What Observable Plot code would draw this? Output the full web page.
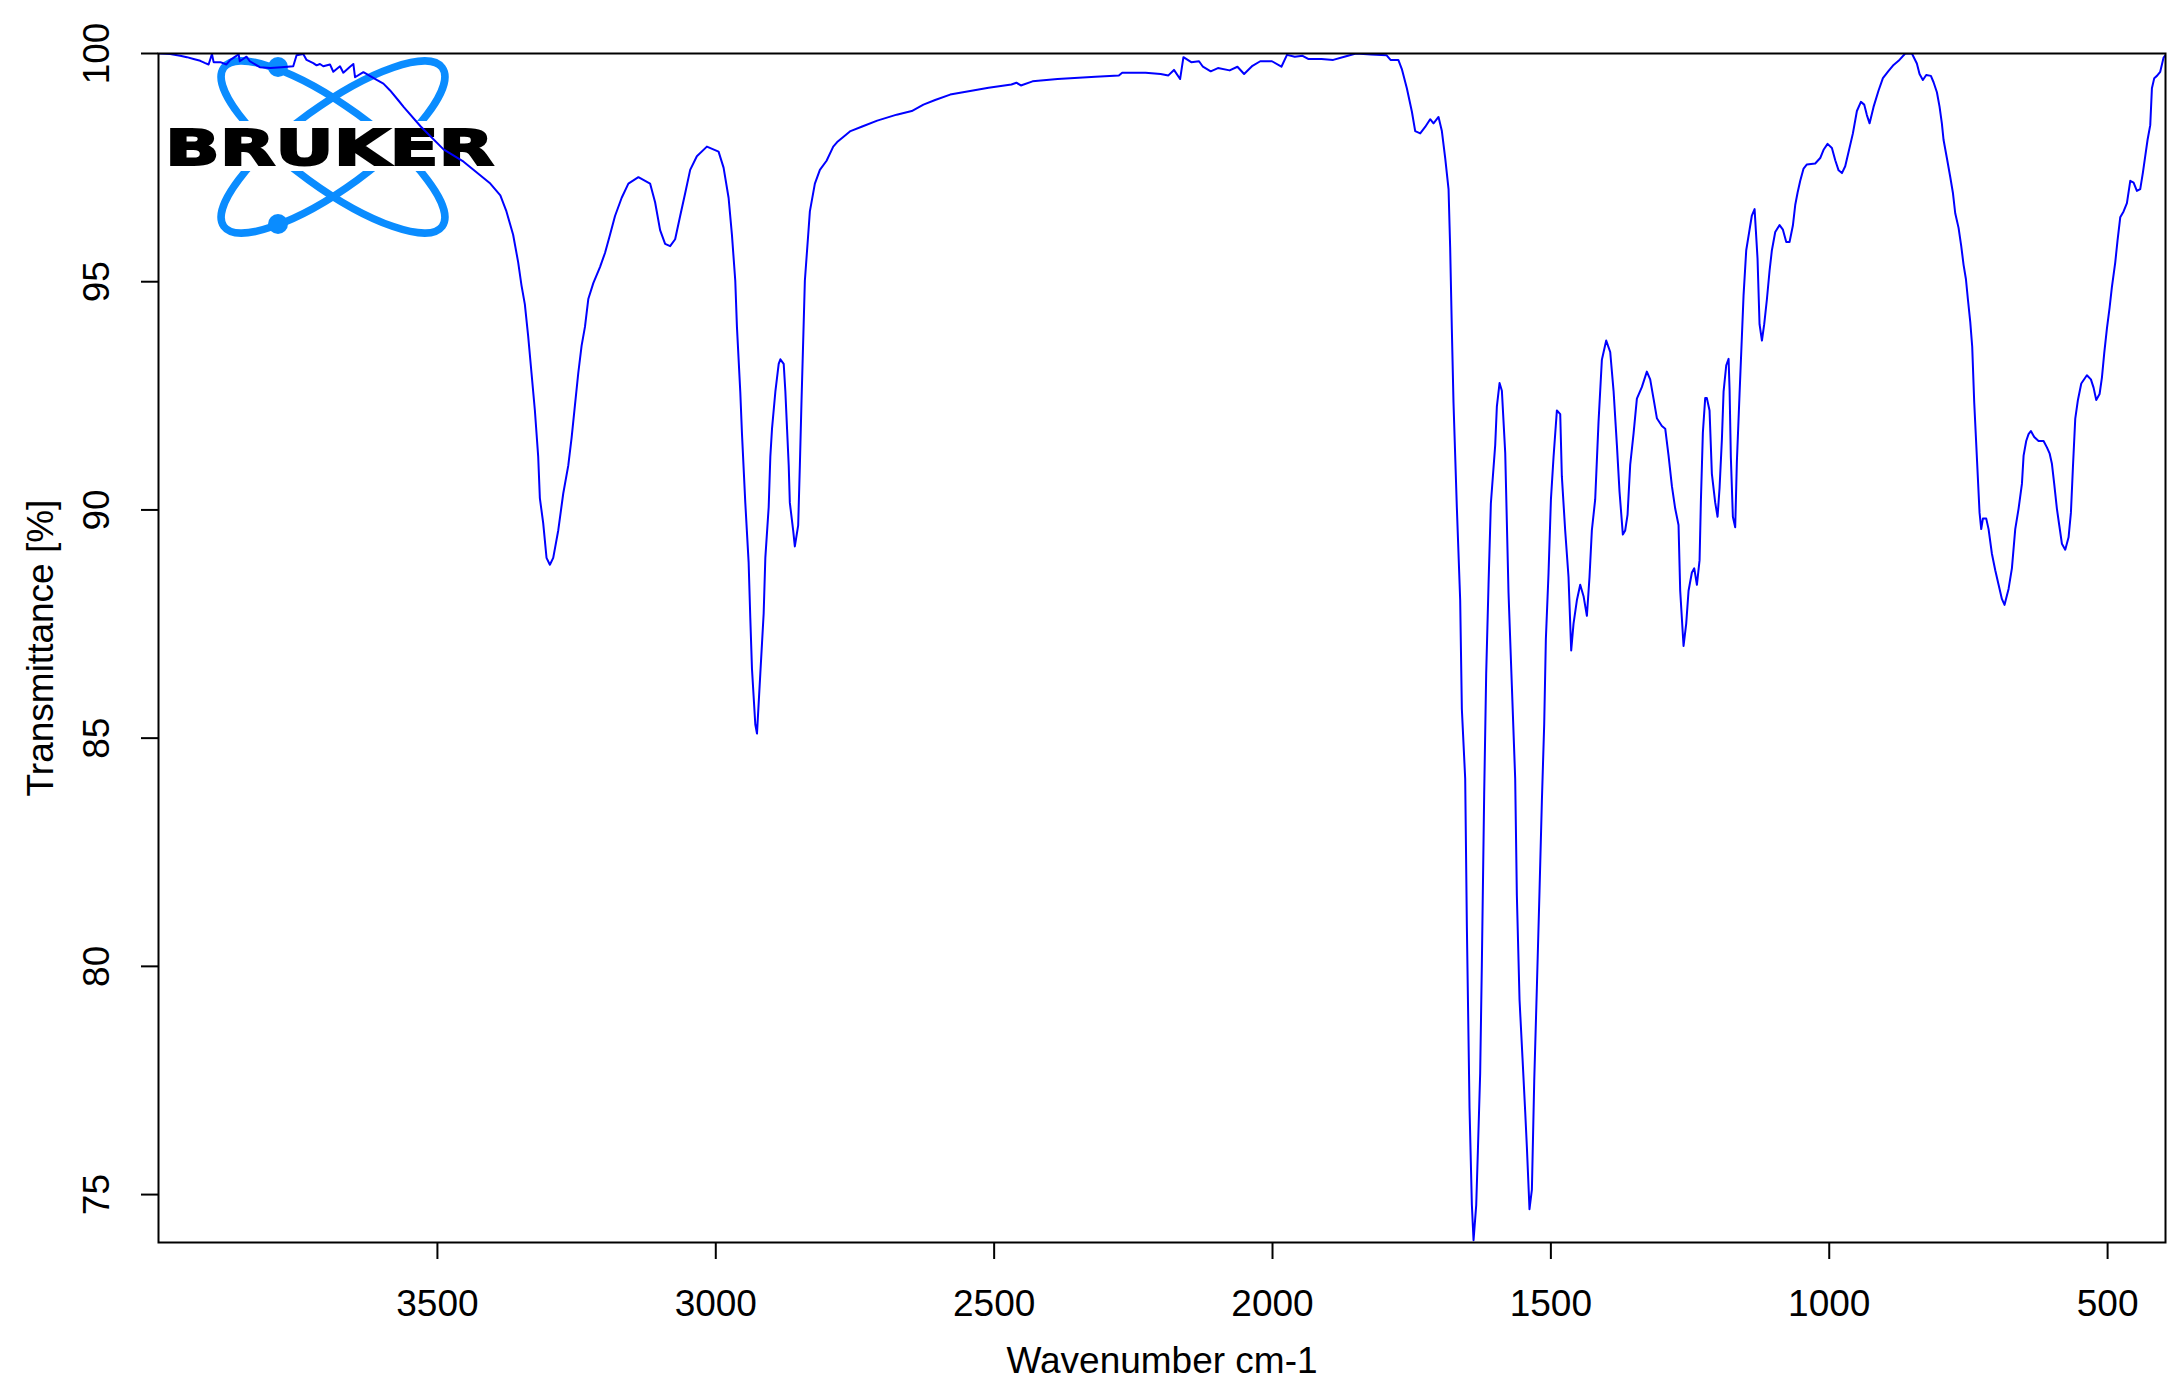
<!DOCTYPE html>
<html>
<head>
<meta charset="utf-8">
<script src="https://cdn.jsdelivr.net/npm/d3@7"></script>
<script src="https://cdn.jsdelivr.net/npm/@observablehq/plot@0.6"></script>
<style>
  body { margin: 0; background: white; overflow: hidden; }
</style>
</head>
<body>
<div id="myplot"></div>
<script>
// [wavenumber cm-1, transmittance %], high to low wavenumber
const baseline = [
  [4000, 100.0], [3998, 100.0], [3980, 99.99], [3962, 99.95], [3950, 99.92], [3938, 99.88],
  [3926, 99.84], [3917, 99.79], [3911, 99.76], [3905, 99.99], [3902, 99.81], [3890, 99.81],
  [3879, 99.76], [3872, 99.86], [3857, 99.98], [3855, 99.83], [3843, 99.93], [3837, 99.83],
  [3819, 99.70], [3800, 99.68], [3780, 99.70], [3759, 99.72], [3753, 99.96], [3741, 99.99],
  [3735, 99.86], [3723, 99.79], [3717, 99.74], [3711, 99.77], [3705, 99.72], [3693, 99.76],
  [3687, 99.60], [3675, 99.72], [3669, 99.58], [3657, 99.71], [3651, 99.77], [3648, 99.48],
  [3633, 99.59], [3609, 99.42], [3597, 99.34], [3585, 99.19], [3570, 98.97], [3560, 98.82],
  [3530, 98.40]
];
const nhStretch = [
  [3489, 97.90], [3453, 97.63], [3405, 97.15], [3387, 96.89], [3376, 96.54], [3364, 96.03],
  [3355, 95.43], [3349, 94.92], [3343, 94.51], [3337, 93.81], [3331, 93.00], [3325, 92.19],
  [3322, 91.68], [3319, 91.17], [3316, 90.26], [3310, 89.71], [3304, 88.95], [3298, 88.80],
  [3292, 88.95], [3283, 89.55], [3274, 90.36], [3265, 90.97], [3259, 91.58], [3253, 92.29],
  [3247, 93.00], [3241, 93.60], [3235, 94.01], [3229, 94.62], [3220, 94.97], [3208, 95.32],
  [3199, 95.63], [3190, 96.03], [3181, 96.44], [3169, 96.84], [3157, 97.15], [3139, 97.29],
  [3118, 97.15], [3109, 96.74], [3100, 96.13], [3091, 95.83], [3082, 95.78], [3073, 95.93],
  [3064, 96.44], [3055, 96.94], [3046, 97.45], [3034, 97.75], [3016, 97.96]
];
const chStretch = [
  [2995, 97.85], [2986, 97.50], [2977, 96.84], [2971, 96.03], [2965, 95.02], [2962, 94.01],
  [2956, 92.59], [2953, 91.68], [2947, 90.16], [2941, 88.85], [2938, 87.63], [2935, 86.52],
  [2929, 85.30], [2926, 85.10], [2920, 86.42], [2914, 87.73], [2911, 88.95], [2905, 90.06],
  [2902, 91.17], [2899, 91.78], [2893, 92.59], [2887, 93.20], [2884, 93.30], [2878, 93.20],
  [2875, 92.59], [2872, 91.78], [2869, 90.97], [2867, 90.16], [2861, 89.55], [2858, 89.20],
  [2852, 89.66], [2849, 90.97], [2846, 92.39], [2843, 93.70], [2840, 95.02], [2834, 96.03],
  [2831, 96.54], [2822, 97.15], [2813, 97.45], [2801, 97.65], [2789, 97.96]
];
const plateau = [
  [2782, 98.06], [2771, 98.17], [2758, 98.30], [2737, 98.40], [2710, 98.53], [2675, 98.66],
  [2648, 98.74], [2627, 98.88], [2606, 98.98], [2579, 99.10], [2538, 99.19], [2510, 99.25],
  [2469, 99.32], [2460, 99.36], [2452, 99.30], [2431, 99.39], [2386, 99.44], [2318, 99.49],
  [2276, 99.52], [2270, 99.58], [2228, 99.58], [2201, 99.55], [2187, 99.52], [2177, 99.64],
  [2166, 99.44], [2160, 99.92], [2146, 99.81], [2132, 99.83], [2125, 99.71], [2111, 99.61],
  [2098, 99.68], [2077, 99.63], [2063, 99.71], [2051, 99.55], [2036, 99.73], [2022, 99.83],
  [2001, 99.83], [1984, 99.71], [1974, 99.97], [1960, 99.93], [1946, 99.95], [1936, 99.88],
  [1912, 99.88], [1891, 99.86], [1871, 99.93], [1850, 100.0], [1823, 99.98], [1795, 99.96],
  [1788, 99.86], [1774, 99.86]
];
const amideBands = [
  [1767.7, 99.66], [1758.7, 99.24], [1749.7, 98.73], [1743.7, 98.30], [1734.7, 98.25],
  [1725.8, 98.39], [1716.8, 98.56], [1710.8, 98.47], [1701.8, 98.61], [1695.8, 98.30],
  [1689.8, 97.71], [1683.8, 97.03], [1680.9, 95.75], [1677.9, 93.97], [1674.9, 92.35],
  [1668.9, 90.06], [1662.9, 88.02], [1659.9, 85.64], [1653.9, 84.11], [1650.9, 80.88],
  [1646.1, 76.89], [1641.9, 74.77], [1638.9, 74.00], [1634.1, 74.77], [1631.1, 75.96],
  [1627.0, 77.66], [1624.0, 80.03], [1619.8, 83.77], [1616.2, 86.41], [1612.0, 88.36],
  [1607.8, 90.14], [1600.0, 91.42], [1597.0, 92.27], [1592.2, 92.78], [1588.0, 92.61],
  [1582.0, 91.25], [1576.1, 88.19], [1570.1, 86.15], [1564.1, 84.11], [1561.1, 81.56],
  [1556.3, 79.27], [1551.0, 78.00], [1546.1, 76.81], [1543.1, 76.04], [1538.4, 74.68],
  [1534.1, 75.11], [1529.9, 77.49], [1525.2, 79.52], [1520.4, 81.65], [1516.2, 83.60],
  [1512.0, 85.30], [1509.0, 87.17], [1504.2, 88.62], [1499.9, 90.23], [1495.2, 91.16],
  [1489.2, 92.18], [1483.2, 92.10], [1480.3, 90.74], [1474.3, 89.55], [1468.3, 88.53],
  [1463.5, 86.92], [1459.3, 87.51], [1453.3, 88.02], [1447.3, 88.36], [1441.3, 88.11],
  [1435.3, 87.68], [1430.6, 88.53], [1426.4, 89.55], [1420.4, 90.23], [1414.4, 91.93],
  [1408.4, 93.29], [1400.6, 93.71], [1393.4, 93.46], [1387.4, 92.61], [1381.4, 91.42],
  [1376.7, 90.40], [1370.7, 89.46], [1366.5, 89.55], [1362.3, 89.89], [1357.5, 90.99],
  [1351.5, 91.67], [1345.5, 92.44], [1336.6, 92.69], [1327.6, 93.03], [1321.6, 92.86],
  [1315.6, 92.44], [1309.6, 92.01], [1300.6, 91.84]
];
const fingerprint = [
  [1294.6, 91.78], [1288.6, 91.19], [1282.6, 90.52], [1276.7, 90.03], [1270.7, 89.67],
  [1267.7, 88.23], [1261.7, 87.02], [1256.9, 87.51], [1252.7, 88.23], [1246.7, 88.63],
  [1242.5, 88.72], [1237.7, 88.36], [1232.9, 88.90], [1230.5, 90.21], [1227.0, 91.69],
  [1222.8, 92.45], [1219.8, 92.45], [1215.0, 92.18], [1210.8, 90.79], [1204.8, 90.16],
  [1200.6, 89.85], [1197.0, 90.48], [1192.8, 91.55], [1189.8, 92.59], [1185.0, 93.17],
  [1180.8, 93.31], [1179.0, 92.63], [1176.7, 91.15], [1173.1, 89.85], [1168.9, 89.62],
  [1165.9, 91.06], [1161.1, 92.54], [1156.9, 93.80], [1153.9, 94.70], [1149.1, 95.69],
  [1143.1, 96.14], [1139.0, 96.45], [1134.1, 96.59], [1128.8, 95.51], [1125.2, 94.07],
  [1120.9, 93.71], [1116.8, 94.07], [1112.0, 94.61], [1107.2, 95.24], [1103.0, 95.69],
  [1097.0, 96.09], [1089.2, 96.24], [1083.2, 96.14], [1077.2, 95.87], [1071.3, 95.87],
  [1065.3, 96.23], [1061.1, 96.68], [1056.9, 96.95], [1052.1, 97.21], [1046.1, 97.48],
  [1040.1, 97.57], [1025.2, 97.59], [1016.2, 97.71], [1010.2, 97.89], [1003.0, 98.02],
  [995.2, 97.93], [989.2, 97.66], [983.2, 97.44], [977.2, 97.38], [971.3, 97.53],
  [965.3, 97.84], [957.5, 98.25], [950.3, 98.74], [943.1, 98.94], [937.2, 98.88],
  [932.4, 98.65], [927.5, 98.47], [920.4, 98.83], [911.4, 99.19], [903.6, 99.46],
  [893.4, 99.62], [884.4, 99.75], [875.5, 99.84], [863.5, 100.0], [851.5, 100.0]
];
const lowRange = [
  [842.6, 99.78], [837.8, 99.55], [831.8, 99.42], [825.8, 99.53], [817.4, 99.51],
  [812.6, 99.37], [806.6, 99.15], [801.8, 98.83], [797.7, 98.47], [794.7, 98.11],
  [788.7, 97.71], [782.7, 97.30], [777.9, 96.95], [773.7, 96.50], [767.7, 96.18],
  [762.9, 95.78], [758.7, 95.37], [754.5, 95.06], [750.9, 94.61], [746.7, 94.12],
  [743.2, 93.58], [739.6, 92.36], [734.8, 91.15], [730.0, 89.94], [727.0, 89.58],
  [724.0, 89.81], [718.0, 89.81], [713.8, 89.58], [707.8, 89.04], [701.8, 88.68],
  [695.8, 88.36], [689.9, 88.05], [685.1, 87.92], [677.9, 88.27], [671.9, 88.72],
  [665.9, 89.58], [659.9, 90.03], [653.9, 90.57], [650.9, 91.19], [646.2, 91.51],
  [642.0, 91.66], [637.8, 91.73], [631.8, 91.60], [624.0, 91.51], [615.0, 91.51],
  [609.0, 91.37], [604.2, 91.24], [600.0, 91.01], [595.9, 90.57], [591.1, 90.03],
  [586.9, 89.67], [582.1, 89.26], [576.1, 89.13], [570.1, 89.40], [565.9, 89.94],
  [562.3, 90.93], [558.1, 92.00], [553.3, 92.41], [547.3, 92.77], [537.2, 92.95],
  [530.0, 92.86], [525.2, 92.68], [520.4, 92.41], [514.4, 92.54], [510.2, 92.90],
  [506.0, 93.44], [501.2, 93.98], [496.4, 94.43], [492.3, 94.88], [486.3, 95.42],
  [482.1, 95.91], [477.3, 96.41], [471.3, 96.54], [465.3, 96.72], [459.3, 97.21],
  [453.3, 97.17], [447.4, 96.99], [441.4, 97.03], [436.6, 97.39], [432.4, 97.75],
  [428.2, 98.11], [423.4, 98.43], [420.4, 99.24], [416.2, 99.46], [411.4, 99.51],
  [405.5, 99.60], [399.5, 99.91], [397.0, 99.95]
];

const xTicks = [3500, 3000, 2500, 2000, 1500, 1000, 500];
const yTicks = [75, 80, 85, 90, 95, 100];

const spectrum = [baseline, nhStretch, chStretch, plateau, amideBands, fingerprint, lowRange]
  .flat()
  .map(([wavenumber, transmittance]) => ({wavenumber, transmittance}));

const logoBlue = "#0a8cff";

// Bruker logo in the top-left corner of the frame
function brukerLogo(index, scales, values, dimensions) {
  const g = d3.create("svg:g")
    .attr("transform", `translate(${dimensions.marginLeft},${dimensions.marginTop})`);
  const cx = 175, cy = 94;
  for (const angle of [36, -36]) {
    g.append("ellipse")
      .attr("cx", cx).attr("cy", cy).attr("rx", 135).attr("ry", 41)
      .attr("transform", `rotate(${angle},${cx},${cy})`)
      .attr("fill", "none").attr("stroke", logoBlue).attr("stroke-width", 7.5);
  }
  g.append("circle").attr("cx", 120).attr("cy", 14).attr("r", 10).attr("fill", logoBlue);
  g.append("circle").attr("cx", 120).attr("cy", 171).attr("r", 10).attr("fill", logoBlue);
  g.append("rect").attr("x", 3).attr("y", 68).attr("width", 340).attr("height", 50).attr("fill", "white");
  g.append("text")
    .attr("x", 7).attr("y", 112)
    .attr("text-anchor", "start")
    .attr("textLength", 329).attr("lengthAdjust", "spacingAndGlyphs")
    .attr("font-family", "DejaVu Sans").attr("font-weight", "bold").attr("font-size", 50)
    .attr("fill", "black").attr("stroke", "black").attr("stroke-width", 2)
    .text("BRUKER");
  return g.node();
}

const plot = Plot.plot({
  width: 2184,
  height: 1392,
  marginLeft: 158,
  marginRight: 19,
  marginTop: 53,
  marginBottom: 150,
  style: {fontFamily: "Liberation Sans, Arial, sans-serif", fontSize: "37px", background: "white", color: "black"},
  x: {domain: [4001, 396]},
  y: {domain: [73.95, 100]},
  marks: [
    brukerLogo,
    Plot.line(spectrum, {x: "wavenumber", y: "transmittance", stroke: "#0000ff", strokeWidth: 2, clip: true}),
    Plot.frame({stroke: "black", strokeWidth: 2}),
    Plot.axisX({ticks: xTicks, tickSize: 17, tickPadding: 30, tickFormat: (d) => String(d), strokeWidth: 2, label: null}),
    Plot.axisY({ticks: yTicks, tickSize: 17, tickFormat: () => "", strokeWidth: 2, label: null}),
    Plot.text(yTicks, {y: (d) => d, text: (d) => String(d), frameAnchor: "left", dx: -50, rotate: -90,
      textAnchor: "middle", lineAnchor: "bottom"}),
    Plot.text(["Wavenumber cm-1"], {text: (d) => d, frameAnchor: "bottom", dy: 130, lineAnchor: "bottom"}),
    Plot.text(["Transmittance [%]"], {text: (d) => d, frameAnchor: "left", rotate: -90, dx: -106,
      textAnchor: "middle", lineAnchor: "bottom"})
  ]
});

document.querySelector("#myplot").append(plot);
</script>
</body>
</html>
